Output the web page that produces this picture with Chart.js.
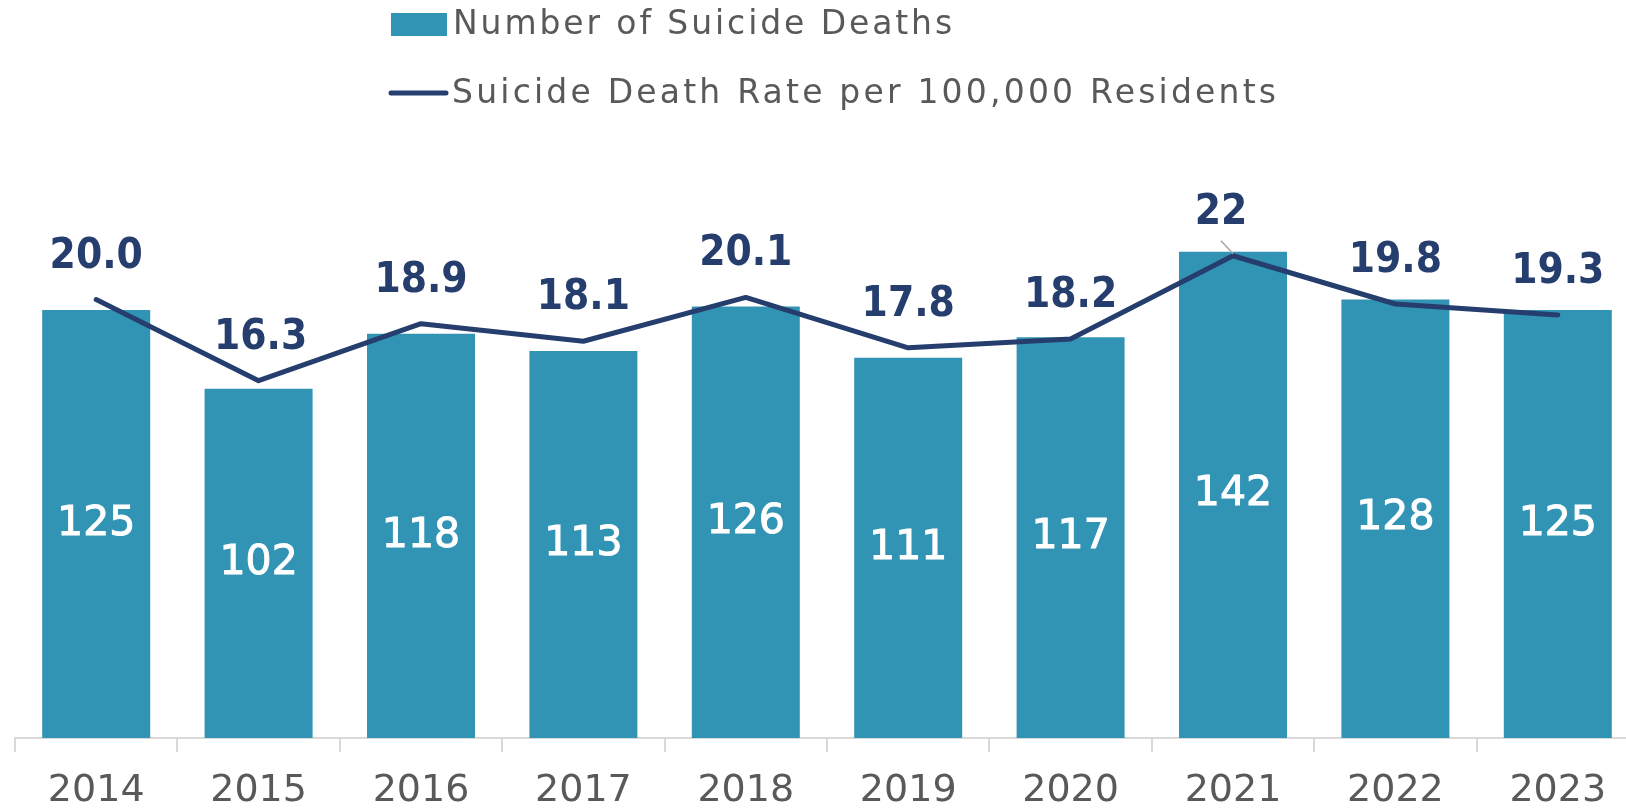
<!DOCTYPE html>
<html>
<head>
<meta charset="utf-8">
<script src="https://cdn.jsdelivr.net/npm/chart.js@4.4.0/dist/chart.umd.min.js"></script>
<style>
  html, body { margin: 0; padding: 0; background: #fff; overflow: hidden; }
  #wrap { width: 1640px; height: 810px; }
</style>
</head>
<body>
<div id="wrap"><canvas id="suicideChart" width="1640" height="810"></canvas></div>
<script>
// Chart data
const years = ['2014', '2015', '2016', '2017', '2018', '2019', '2020', '2021', '2022', '2023'];
const deaths = [125, 102, 118, 113, 126, 111, 117, 142, 128, 125];
const rates = [20.0, 16.3, 18.9, 18.1, 20.1, 17.8, 18.2, 22.0, 19.8, 19.3];
const rateLabels = ['20.0', '16.3', '18.9', '18.1', '20.1', '17.8', '18.2', '22', '19.8', '19.3'];
const seriesNames = ['Number of Suicide Deaths', 'Suicide Death Rate per 100,000 Residents'];

const BAR_COLOR = '#3194b4';
const LINE_COLOR = '#263e6e';
const TEXT_GREY = '#595959';
const AXIS_GREY = '#d9d9d9';
const FONT = "'DejaVu Sans', sans-serif";

// label nudges (2021 label sits left with a leader line)
const rateLabelDx = [0, 2, 0, 0, 0, 0, 0, -12, 0, 0];

// Legend: two stacked rows, left aligned
const legendPlugin = {
    id: 'stackedLegend',
    afterDraw(chart) {
        const ctx = chart.ctx;
        ctx.save();
        ctx.fillStyle = BAR_COLOR;
        ctx.fillRect(391, 13, 56, 23);
        ctx.strokeStyle = LINE_COLOR;
        ctx.lineWidth = 5;
        ctx.lineCap = 'round';
        ctx.beginPath();
        ctx.moveTo(391, 93);
        ctx.lineTo(446, 93);
        ctx.stroke();
        ctx.fillStyle = TEXT_GREY;
        ctx.font = '33px ' + FONT;
        ctx.textBaseline = 'middle';
        ctx.textAlign = 'left';
        ctx.letterSpacing = '2.9px';
        ctx.fillText(seriesNames[0], 453, 25);
        ctx.letterSpacing = '3.2px';
        ctx.fillText(seriesNames[1], 452, 94);
        ctx.restore();
    }
};

// Value labels: counts in the middle of bars, rates above the line
const labelPlugin = {
    id: 'valueLabels',
    afterDatasetsDraw(chart) {
        const ctx = chart.ctx;
        ctx.save();
        ctx.textAlign = 'center';
        ctx.textBaseline = 'middle';

        const bars = chart.getDatasetMeta(0).data;
        ctx.fillStyle = '#ffffff';
        ctx.strokeStyle = '#ffffff';
        ctx.lineWidth = 1;
        ctx.font = '41px ' + FONT;
        bars.forEach((bar, i) => {
            const cy = (bar.y + bar.base) / 2;
            ctx.fillText(String(deaths[i]), bar.x, cy);
            ctx.strokeText(String(deaths[i]), bar.x, cy);
        });

        const pts = chart.getDatasetMeta(1).data;
        ctx.font = "bold 42px 'DejaVu Sans Condensed', 'DejaVu Sans', sans-serif";
        pts.forEach((pt, i) => {
            const lx = pt.x + rateLabelDx[i];
            const ly = pt.y - 43;
            if (rateLabelDx[i] < -5) {
                ctx.strokeStyle = '#a6a6a6';
                ctx.lineWidth = 1.5;
                ctx.beginPath();
                ctx.moveTo(lx, ly + 28);
                ctx.lineTo(pt.x, pt.y - 2);
                ctx.stroke();
            }
            ctx.fillStyle = LINE_COLOR;
            ctx.fillText(rateLabels[i], lx, ly);
        });
        ctx.restore();
    }
};

new Chart(document.getElementById('suicideChart').getContext('2d'), {
    data: {
        labels: years,
        datasets: [
            {
                type: 'bar',
                label: seriesNames[0],
                data: deaths,
                backgroundColor: BAR_COLOR,
                borderWidth: 0,
                categoryPercentage: 1,
                barPercentage: 0.665,
                yAxisID: 'y',
                order: 2
            },
            {
                type: 'line',
                label: seriesNames[1],
                data: rates,
                borderColor: LINE_COLOR,
                borderWidth: 5,
                borderCapStyle: 'round',
                borderJoinStyle: 'round',
                pointRadius: 0,
                tension: 0,
                fill: false,
                yAxisID: 'y1',
                order: 1
            }
        ]
    },
    options: {
        responsive: false,
        animation: false,
        layout: { padding: { left: 15, right: 1, top: 190, bottom: 0 } },
        plugins: {
            legend: { display: false },
            tooltip: { enabled: false }
        },
        scales: {
            x: {
                offset: true,
                grid: {
                    display: true,
                    offset: true,
                    drawOnChartArea: false,
                    drawTicks: true,
                    tickLength: 14,
                    color: AXIS_GREY,
                    lineWidth: 2
                },
                border: { display: true, color: AXIS_GREY, width: 2 },
                ticks: {
                    color: TEXT_GREY,
                    font: { family: FONT, size: 38 },
                    padding: 16,
                    maxRotation: 0
                },
                afterFit(scale) { scale.height = 72; }
            },
            y: {
                display: false,
                min: 0,
                max: 160
            },
            y1: {
                display: false,
                position: 'right',
                min: 0,
                max: 25
            }
        }
    },
    plugins: [labelPlugin, legendPlugin]
});
</script>
</body>
</html>
